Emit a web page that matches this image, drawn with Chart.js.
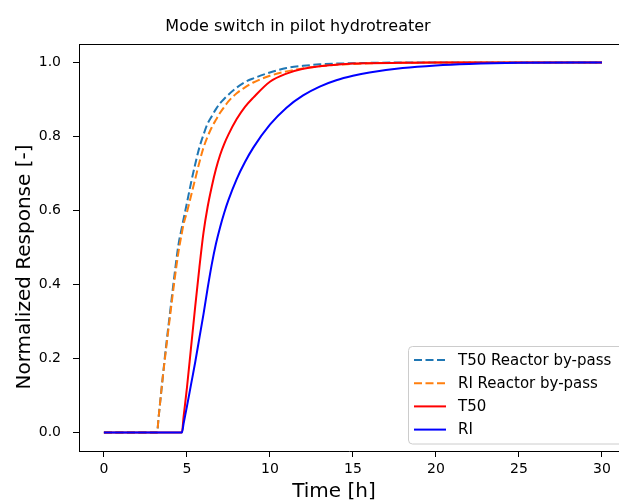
<!DOCTYPE html>
<html>
<head>
<meta charset="utf-8">
<script src="https://cdn.jsdelivr.net/npm/chart.js@4"></script>
<style>
  html, body { margin: 0; padding: 0; background: #fff; overflow: hidden; }
</style>
</head>
<body>
<canvas id="chart" width="619" height="502"></canvas>
<script>
// time axis [h], shared by all four series
var hours = [0, 3, 3.2, 3.3, 3.5, 3.75, 4, 4.25, 4.5, 4.7, 4.8, 5, 5.25, 5.5, 5.75, 6, 6.25, 6.5, 6.75, 7, 7.25, 7.5, 8, 8.5, 9, 10, 11, 12, 13, 14, 15, 16, 18, 20, 22, 25, 30];

var t50Bypass = [0, 0, 0, 0.043, 0.13, 0.235, 0.33, 0.425, 0.51, 0.555, 0.577, 0.62, 0.675, 0.725, 0.77, 0.805, 0.835, 0.855, 0.874, 0.89, 0.902, 0.913, 0.932, 0.947, 0.957, 0.973, 0.985, 0.991, 0.995, 0.997, 0.998, 0.999, 1, 1, 1, 1, 1];
var riBypass  = [0, 0, 0, 0.043, 0.13, 0.228, 0.32, 0.41, 0.49, 0.54, 0.563, 0.595, 0.64, 0.685, 0.73, 0.77, 0.8, 0.825, 0.845, 0.864, 0.88, 0.895, 0.917, 0.933, 0.946, 0.964, 0.976, 0.984, 0.99, 0.994, 0.996, 0.998, 0.999, 1, 1, 1, 1];
var t50       = [0, 0, 0, 0, 0, 0, 0, 0, 0, 0, 0.042, 0.12, 0.23, 0.34, 0.445, 0.54, 0.61, 0.665, 0.712, 0.75, 0.78, 0.805, 0.847, 0.88, 0.905, 0.948, 0.97, 0.983, 0.99, 0.994, 0.997, 0.998, 0.999, 1, 1, 1, 1];
var ri        = [0, 0, 0, 0, 0, 0, 0, 0, 0, 0, 0.024, 0.07, 0.13, 0.19, 0.255, 0.32, 0.39, 0.455, 0.51, 0.555, 0.594, 0.628, 0.685, 0.731, 0.77, 0.832, 0.878, 0.911, 0.935, 0.952, 0.964, 0.973, 0.985, 0.992, 0.996, 0.999, 1];

var seriesNames = ['T50 Reactor by-pass', 'RI Reactor by-pass', 'T50', 'RI'];
var xTicks = [0, 5, 10, 15, 20, 25, 30];
var yTicks = [0, 0.2, 0.4, 0.6, 0.8, 1.0];

var titleText = 'Mode switch in pilot hydrotreater';
var xTitle = 'Time [h]';
var yTitle = 'Normalized Response [-]';

function points(vals) {
  return hours.map(function (h, i) { return { x: h, y: vals[i] }; });
}

Chart.defaults.font.family = '"DejaVu Sans", sans-serif';
Chart.defaults.color = '#000';

// title, axis titles, top spine and the boxed legend, drawn like matplotlib does
var extras = {
  id: 'extras',
  afterDraw: function (chart) {
    var ctx = chart.ctx;
    var a = chart.chartArea;
    ctx.save();
    ctx.strokeStyle = '#000';
    ctx.lineWidth = 1;
    ctx.beginPath();
    ctx.moveTo(a.left, a.top + 0.5);
    ctx.lineTo(chart.width, a.top + 0.5);
    ctx.stroke();

    ctx.fillStyle = '#000';
    ctx.textAlign = 'center';
    ctx.textBaseline = 'alphabetic';
    ctx.font = '16px "DejaVu Sans"';
    ctx.fillText(titleText, 298, 31);
    ctx.font = '20px "DejaVu Sans"';
    ctx.fillText(xTitle, 334, 497);
    ctx.translate(30, 267);
    ctx.rotate(-Math.PI / 2);
    ctx.fillText(yTitle, 0, 0);
    ctx.restore();

    // legend
    ctx.save();
    ctx.beginPath();
    ctx.roundRect(408.5, 346.5, 240, 97.5, 4);
    ctx.fillStyle = 'rgba(255,255,255,0.8)';
    ctx.fill();
    ctx.strokeStyle = '#cccccc';
    ctx.lineWidth = 1;
    ctx.stroke();
    chart.data.datasets.forEach(function (ds, i) {
      var y = 360 + i * 23.2;
      ctx.strokeStyle = ds.borderColor;
      ctx.lineWidth = 2;
      ctx.setLineDash(ds.borderDash || []);
      ctx.beginPath();
      ctx.moveTo(414, y);
      ctx.lineTo(446, y);
      ctx.stroke();
      ctx.setLineDash([]);
      ctx.fillStyle = '#000';
      ctx.font = '15px "DejaVu Sans"';
      ctx.textAlign = 'left';
      ctx.textBaseline = 'middle';
      ctx.fillText(ds.label, 458, y + 1);
    });
    ctx.restore();
  }
};

var ctx = document.getElementById('chart');
var chart = new Chart(ctx, {
  type: 'line',
  data: {
    datasets: [
      { label: seriesNames[0], data: points(t50Bypass), borderColor: '#1f77b4', borderDash: [8, 3.5], order: 4 },
      { label: seriesNames[1], data: points(riBypass), borderColor: '#ff7f0e', borderDash: [8, 3.5], order: 3 },
      { label: seriesNames[2], data: points(t50), borderColor: '#ff0000', order: 2 },
      { label: seriesNames[3], data: points(ri), borderColor: '#0000ff', order: 1 }
    ]
  },
  options: {
    responsive: false,
    animation: false,
    datasets: {
      line: { borderWidth: 2, pointRadius: 0, cubicInterpolationMode: 'monotone', fill: false }
    },
    layout: { padding: { top: 44, right: 0, left: 0, bottom: 0 } },
    scales: {
      x: {
        type: 'linear',
        min: -1.5,
        max: 31.03,
        afterBuildTicks: function (scale) {
          scale.ticks = xTicks.map(function (v) { return { value: v }; });
        },
        afterFit: function (scale) { scale.height = 51; },
        ticks: {
          font: { size: 14 },
          padding: 4,
          maxRotation: 0,
          callback: function (v) { return String(v); }
        },
        grid: { display: true, drawOnChartArea: false, drawTicks: true, tickLength: 6, tickColor: '#000' },
        border: { display: true, color: '#000', width: 1 }
      },
      y: {
        min: -0.05,
        max: 1.05,
        afterBuildTicks: function (scale) {
          scale.ticks = yTicks.map(function (v) { return { value: v }; });
        },
        afterFit: function (scale) { scale.width = 79; },
        ticks: {
          font: { size: 14 },
          padding: 12,
          callback: function (v) { return v.toFixed(1); }
        },
        grid: { display: true, drawOnChartArea: false, drawTicks: true, tickLength: 6, tickColor: '#000' },
        border: { display: true, color: '#000', width: 1 }
      }
    },
    plugins: {
      legend: { display: false },
      title: { display: false },
      tooltip: { enabled: false }
    }
  },
  plugins: [extras]
});
</script>
</body>
</html>
